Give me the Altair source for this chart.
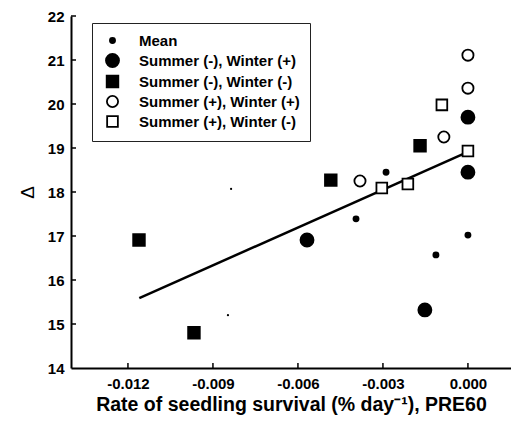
import altair as alt
import pandas as pd

categories = ["Mean", "Summer (-), Winter (+)", "Summer (-), Winter (-)",
              "Summer (+), Winter (+)", "Summer (+), Winter (-)"]

mean_x = [-0.00289, -0.00395, -0.00113, 0.0]
mean_y = [18.45, 17.39, 16.57, 17.02]
smwp_x = [0.0, 0.0, -0.00568, -0.00152]
smwp_y = [19.70, 18.45, 16.91, 15.32]
smwm_x = [-0.01161, -0.00967, -0.00484, -0.00169]
smwm_y = [16.91, 14.80, 18.27, 19.05]
spwp_x = [0.0, 0.0, -0.00085, -0.00381]
spwp_y = [21.11, 20.36, 19.25, 18.25]
spwm_x = [-0.00092, 0.0, -0.00304, -0.00212]
spwm_y = [19.98, 18.93, 18.09, 18.18]
tiny_x = [-0.00836, -0.00847]
tiny_y = [18.07, 15.20]
fit_x = [-0.0116, 0.0]
fit_y = [15.59, 18.91]
x_ticks = [-0.012, -0.009, -0.006, -0.003, 0.0]
y_ticks = [15, 16, 17, 18, 19, 20, 21, 22]

rows = []
for cat, xs, ys in zip(categories, [mean_x, smwp_x, smwm_x, spwp_x, spwm_x],
                       [mean_y, smwp_y, smwm_y, spwp_y, spwm_y]):
    for xv, yv in zip(xs, ys):
        rows.append({"x": xv, "y": yv, "g": cat})
pts = pd.DataFrame(rows)
tiny = pd.DataFrame({"x": tiny_x, "y": tiny_y})
fit = pd.DataFrame({"x": fit_x, "y": fit_y})
xt = pd.DataFrame({"v": x_ticks})
yt = pd.DataFrame({"v": y_ticks})

W, H = 440, 352
xs = alt.Scale(domain=[-0.01401, 0.00152], nice=False, zero=False)
ys = alt.Scale(domain=[14, 22], nice=False, zero=False)
FONT = "Liberation Sans"

xaxis = alt.Axis(values=x_ticks, tickSize=0, labelPadding=8, grid=False,
                 labelExpr="replace(format(datum.value, '.3f'), '\u2212', '-')",
                 title="Rate of seedling survival (% day\u207b\u00b9), PRE60",
                 titlePadding=4, titleFontSize=19.5, titleFontWeight="bold")
yaxis = alt.Axis(values=[14] + y_ticks, tickSize=0, labelPadding=7, grid=False,
                 format="d", title="\u0394", titlePadding=10,
                 titleFontSize=19, titleFontWeight="normal")

leg = alt.Legend(title=None)
points = alt.Chart(pts).mark_point(filled=True, strokeWidth=1.8, opacity=1).encode(
    x=alt.X("x:Q", scale=xs, axis=xaxis),
    y=alt.Y("y:Q", scale=ys, axis=yaxis),
    shape=alt.Shape("g:N", scale=alt.Scale(domain=categories,
                    range=["circle", "circle", "square", "circle", "square"]),
                    legend=leg),
    fill=alt.Fill("g:N", scale=alt.Scale(domain=categories,
                  range=["black", "black", "black", "white", "white"]),
                  legend=leg),
    stroke=alt.Stroke("g:N", scale=alt.Scale(domain=categories,
                      range=["black", "black", "black", "black", "black"]),
                      legend=leg),
    size=alt.Size("g:N", scale=alt.Scale(type="ordinal", domain=categories,
                  range=[26, 170, 135, 125, 115]),
                  legend=leg),
)

tinyl = alt.Chart(tiny).mark_point(filled=True, color="black", size=5, opacity=1).encode(
    x=alt.X("x:Q", scale=xs), y=alt.Y("y:Q", scale=ys))

line = alt.Chart(fit).mark_line(color="black", strokeWidth=2.5).encode(
    x=alt.X("x:Q", scale=xs), y=alt.Y("y:Q", scale=ys))

xtick = alt.Chart(xt).mark_rule(color="black", strokeWidth=1.5).encode(
    x=alt.X("v:Q", scale=xs), y=alt.value(H), y2=alt.value(H - 5))
ytick = alt.Chart(yt).mark_rule(color="black", strokeWidth=1.5).encode(
    y=alt.Y("v:Q", scale=ys), x=alt.value(0), x2=alt.value(5))

chart = alt.layer(line, points, tinyl, xtick, ytick).properties(
    width=W, height=H,
    autosize=alt.AutoSizeParams(type="none"),
    padding={"left": 63, "top": 8, "right": 0, "bottom": 50},
).configure_view(stroke=None).configure_axis(
    domainColor="black", domainWidth=2,
    labelFont=FONT, labelFontSize=15, labelFontWeight="bold", labelColor="black",
    titleFont=FONT, titleColor="black",
).configure_legend(
    orient="none", legendX=21, legendY=7,
    strokeColor="#222", padding=10, symbolOffset=3,
    labelFont=FONT, labelFontSize=15, labelFontWeight="bold", labelColor="black",
    labelOffset=19, rowPadding=1, labelLimit=400,
    symbolStrokeColor="black", symbolStrokeWidth=1.8,
)

chart.save("out.html", embed_options={"renderer": "svg", "actions": False})
